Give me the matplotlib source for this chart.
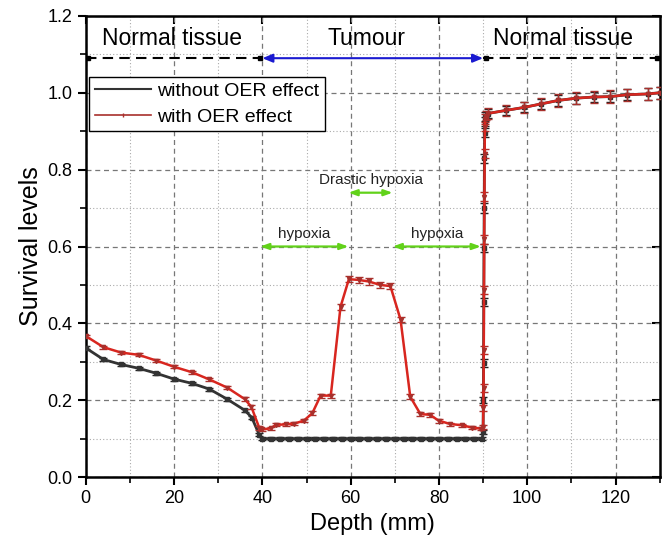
import matplotlib
matplotlib.use('Agg')
import matplotlib.pyplot as plt
import matplotlib.ticker as ticker
from matplotlib.lines import Line2D

plt.rcParams['font.family'] = ['Liberation Sans', 'DejaVu Sans']

# survival without OER effect
depth_wo = [0, 4, 8, 12, 16, 20, 24, 28, 32, 36, 37.6, 39.3, 40,
            42, 44, 46, 48, 50, 52, 54, 56, 58, 60, 62, 64, 66, 68, 70,
            72, 74, 76, 78, 80, 82, 84, 86, 88, 89.8,
            90.0, 90.05, 90.1, 90.15, 90.2, 90.25, 90.3, 90.35, 90.4, 90.5,
            91, 95.1, 99.3, 103.1, 107, 111.1, 115.1, 118.8, 122.7, 127.3, 130]
surv_wo = [0.336, 0.306, 0.293, 0.283, 0.270, 0.255, 0.244, 0.229, 0.203, 0.174, 0.155, 0.110, 0.100,
           0.100, 0.100, 0.100, 0.100, 0.100, 0.100, 0.100, 0.100, 0.100, 0.100, 0.100, 0.100, 0.100, 0.100, 0.100,
           0.100, 0.100, 0.100, 0.100, 0.100, 0.100, 0.100, 0.100, 0.100, 0.100,
           0.118, 0.200, 0.296, 0.456, 0.596, 0.700, 0.830, 0.896, 0.925, 0.938,
           0.946, 0.954, 0.962, 0.971, 0.980, 0.986, 0.989, 0.990, 0.995, 0.997, 1.000]
err_wo = [0.004, 0.004, 0.004, 0.004, 0.004, 0.004, 0.004, 0.004, 0.004, 0.004, 0.004, 0.004, 0.003,
          0.003, 0.003, 0.003, 0.003, 0.003, 0.003, 0.003, 0.003, 0.003, 0.003, 0.003, 0.003, 0.003, 0.003, 0.003,
          0.003, 0.003, 0.003, 0.003, 0.003, 0.003, 0.003, 0.003, 0.003, 0.003,
          0.005, 0.008, 0.010, 0.010, 0.010, 0.012, 0.012, 0.012, 0.012, 0.012,
          0.012, 0.012, 0.013, 0.013, 0.014, 0.014, 0.014, 0.015, 0.015, 0.015, 0.015]

# survival with OER effect
depth_w = [0, 4, 8, 12, 16, 20, 24, 28, 32, 36, 37.5, 39.3,
           40, 42, 43, 45.3, 47.2, 49.4, 51.3, 53.2, 55.5, 57.7, 59.6, 61.8, 64.1,
           66.7, 69, 71.3, 73.5, 75.8, 78, 79.9, 82.6, 85.2, 87.4, 89.5,
           90.0, 90.05, 90.1, 90.15, 90.2, 90.25, 90.3, 90.35, 90.4, 90.45, 90.6,
           91, 95.1, 99.3, 103.1, 107, 111.1, 115.1, 118.8, 122.7, 127.3, 130]
surv_w = [0.367, 0.338, 0.324, 0.318, 0.303, 0.287, 0.273, 0.254, 0.233, 0.203, 0.183, 0.128,
          0.124, 0.127, 0.136, 0.137, 0.139, 0.147, 0.166, 0.212, 0.212, 0.443, 0.515, 0.513, 0.509,
          0.500, 0.497, 0.410, 0.209, 0.164, 0.162, 0.147, 0.138, 0.135, 0.129, 0.126,
          0.131, 0.179, 0.231, 0.331, 0.487, 0.619, 0.730, 0.841, 0.912, 0.932, 0.940,
          0.946, 0.954, 0.962, 0.971, 0.980, 0.986, 0.989, 0.990, 0.995, 0.997, 1.000]
err_w = [0.004, 0.004, 0.004, 0.004, 0.004, 0.004, 0.004, 0.004, 0.004, 0.005, 0.005, 0.005,
         0.004, 0.004, 0.004, 0.004, 0.004, 0.004, 0.005, 0.005, 0.005, 0.008, 0.008, 0.008, 0.008,
         0.008, 0.008, 0.007, 0.006, 0.005, 0.005, 0.005, 0.004, 0.004, 0.004, 0.004,
         0.005, 0.008, 0.010, 0.010, 0.010, 0.012, 0.012, 0.012, 0.012, 0.012, 0.012,
         0.014, 0.014, 0.015, 0.015, 0.016, 0.016, 0.016, 0.016, 0.016, 0.016, 0.016]

# region labels and arrows
region_labels = ['Normal tissue', 'Tumour', 'Normal tissue']
region_edges = [(0, 40), (40, 90), (90, 130)]
region_text_x = [19.5, 63.5, 108]
hypoxia_labels = ['hypoxia', 'Drastic hypoxia', 'hypoxia']
hypoxia_spans = [(39.5, 59.5), (59.5, 69.5), (69.5, 89.5)]
hypoxia_y = [0.6, 0.74, 0.6]

BLACK = '#333333'
RED = '#d8261f'
RED_DARK = '#a8302c'
BLUE = '#1a1ad0'
GREEN = '#62d21a'

fig = plt.figure(figsize=(6.65, 5.49), dpi=100)
ax = fig.add_axes([0.129, 0.131, 0.863, 0.840])

ax.errorbar(depth_wo, surv_wo, yerr=err_wo, color=BLACK, lw=2.0, marker='s', ms=2.5,
            ecolor='#222222', elinewidth=1.0, capsize=3, capthick=1.0, zorder=3)
ax.errorbar(depth_w, surv_w, yerr=err_w, color=RED, lw=1.8, marker='v', ms=3,
            mfc=RED_DARK, mec=RED_DARK, ecolor=RED_DARK, elinewidth=1.0, capsize=3,
            capthick=1.0, zorder=4)

# legend proxies
handles = [Line2D([0], [0], color=BLACK, lw=1.5),
           Line2D([0], [0], color=RED_DARK, lw=1.2, marker='|', ms=3)]
leg = ax.legend(handles, ['without OER effect', 'with OER effect'], loc='upper left',
                bbox_to_anchor=(0.006, 0.868), fontsize=14, frameon=True, fancybox=False,
                edgecolor='black', framealpha=1, handlelength=2.9, handletextpad=0.3,
                borderpad=0.3, labelspacing=0.4, borderaxespad=0)
leg.get_frame().set_linewidth(1.0)

# top region arrows
for (x0, x1), lab, tx in zip(region_edges, region_labels, region_text_x):
    if lab == 'Tumour':
        ax.annotate('', xy=(x1, 1.09), xytext=(x0, 1.09),
                    arrowprops=dict(arrowstyle='<|-|>,head_length=0.6,head_width=0.25',
                                    color=BLUE, lw=1.5, shrinkA=0, shrinkB=0))
    else:
        ax.plot([x0, x1], [1.09, 1.09], color='black', lw=1.5, ls=(0, (5, 3)))
        ax.plot([x0 + 0.6, x1 - 0.6], [1.09, 1.09], ls='none', marker='s', ms=3.5, color='black')
    ax.text(tx, 1.142, lab, fontsize=16.5, ha='center', va='center')

# hypoxia arrows
for (x0, x1), yv, lab in zip(hypoxia_spans, hypoxia_y, hypoxia_labels):
    ax.annotate('', xy=(x1, yv), xytext=(x0, yv),
                arrowprops=dict(arrowstyle='<|-|>,head_length=0.5,head_width=0.18',
                                color=GREEN, lw=1.6, shrinkA=0, shrinkB=0), zorder=5)
    ax.text((x0 + x1) / 2, yv + 0.032, lab, fontsize=11, ha='center', va='center', color='#222222')

ax.set_xlim(0, 130)
ax.set_ylim(0, 1.2)
ax.xaxis.set_major_locator(ticker.MultipleLocator(20))
ax.xaxis.set_minor_locator(ticker.MultipleLocator(10))
ax.yaxis.set_major_locator(ticker.MultipleLocator(0.2))
ax.yaxis.set_minor_locator(ticker.MultipleLocator(0.1))
ax.yaxis.set_major_formatter(ticker.FormatStrFormatter('%.1f'))

ax.grid(True, which='major', color='#777777', ls=(0, (4, 3)), lw=0.9)
ax.grid(True, which='minor', color='#aaaaaa', ls=(0, (1, 2)), lw=0.8)
ax.set_axisbelow(True)

ax.tick_params(axis='both', which='major', direction='out', length=6, width=1.5, labelsize=13)
ax.tick_params(axis='both', which='minor', direction='out', length=4, width=1.2)
for s in ax.spines.values():
    s.set_linewidth(1.8)

# inward ticks on top and right
axt = ax.secondary_xaxis('top')
axt.xaxis.set_major_locator(ticker.MultipleLocator(20))
axt.tick_params(direction='in', length=6, width=1.5, labeltop=False)
axr = ax.secondary_yaxis('right')
axr.yaxis.set_major_locator(ticker.MultipleLocator(0.2))
axr.tick_params(direction='in', length=6, width=1.5, labelright=False)

ax.set_xlabel('Depth (mm)', fontsize=17, labelpad=4)
ax.set_ylabel('Survival levels', fontsize=18, labelpad=3)

fig.savefig('out.png', dpi=100)
